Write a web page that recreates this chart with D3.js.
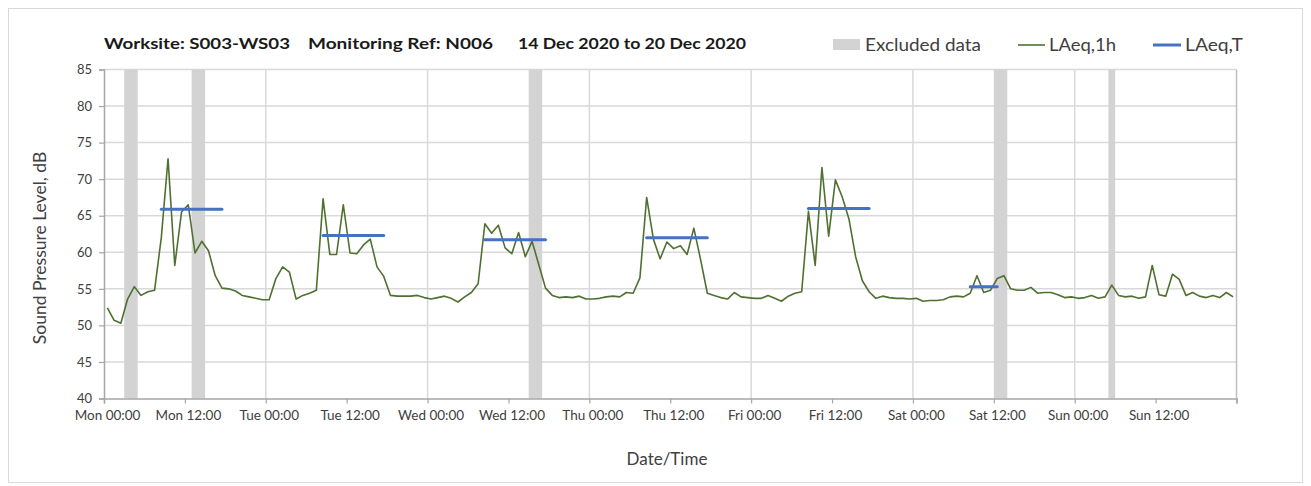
<!DOCTYPE html>
<html>
<head>
<meta charset="utf-8">
<script src="https://cdn.jsdelivr.net/npm/d3@7"></script>
<style>
  html, body { margin: 0; padding: 0; background: #fff; }
  svg { display: block; font-family: Lato, "Open Sans", sans-serif; }
</style>
</head>
<body>
<svg id="chart" width="1311" height="486"></svg>
<script>
// ---------------- DATA ----------------
const seriesStart = "2020-12-14T00:00:00Z";   // Mon 00:00, first hourly value plotted at mid-hour
const seriesEnd = "2020-12-21T00:00:00Z";
// LAeq,1h hourly values (dB), 168 hours Mon 00:00 - Sun 24:00
const laeq1h = [
  52.4, 50.7, 50.3, 53.6, 55.3, 54.1, 54.6, 54.8, 62.0, 72.8, 58.2, 65.5,
  66.5, 59.9, 61.5, 60.2, 56.8, 55.1, 55.0, 54.7, 54.1, 53.9, 53.7, 53.5,
  53.5, 56.4, 58.0, 57.3, 53.6, 54.1, 54.4, 54.8, 67.3, 59.7, 59.7, 66.5,
  59.9, 59.8, 61.0, 61.8, 58.0, 56.7, 54.1, 54.0, 54.0, 54.0, 54.1, 53.8,
  53.6, 53.8, 54.0, 53.7, 53.2, 53.9, 54.5, 55.7, 63.9, 62.6, 63.7, 60.6,
  59.8, 62.7, 59.4, 61.5, 58.3, 55.1, 54.1, 53.8, 53.9, 53.8, 54.0, 53.6,
  53.6, 53.7, 53.9, 54.0, 53.9, 54.5, 54.4, 56.5, 67.5, 61.8, 59.1, 61.4,
  60.5, 60.9, 59.7, 63.3, 59.0, 54.4, 54.1, 53.8, 53.6, 54.5, 53.9, 53.8,
  53.7, 53.7, 54.1, 53.7, 53.3, 54.0, 54.4, 54.6, 65.6, 58.2, 71.6, 62.2,
  69.9, 67.6, 64.6, 59.4, 56.1, 54.6, 53.7, 54.0, 53.8, 53.7, 53.7, 53.6,
  53.7, 53.3, 53.4, 53.4, 53.5, 53.9, 54.0, 53.9, 54.4, 56.8, 54.5, 54.8,
  56.4, 56.8, 55.0, 54.8, 54.8, 55.2, 54.4, 54.5, 54.5, 54.2, 53.8, 53.9,
  53.7, 53.8, 54.1, 53.7, 53.9, 55.5, 54.1, 53.9, 54.0, 53.7, 53.9, 58.2,
  54.2, 54.0, 57.0, 56.3, 54.1, 54.5, 54.0, 53.8, 54.1, 53.8, 54.5, 53.9
];
// LAeq,T periods
const periodStart = ["2020-12-14T08:30:00Z","2020-12-15T08:30:00Z","2020-12-16T08:30:00Z","2020-12-17T08:30:00Z","2020-12-18T08:30:00Z","2020-12-19T08:30:00Z"];
const periodEnd   = ["2020-12-14T17:30:00Z","2020-12-15T17:30:00Z","2020-12-16T17:30:00Z","2020-12-17T17:30:00Z","2020-12-18T17:30:00Z","2020-12-19T12:30:00Z"];
const periodLAeqT = [65.9, 62.3, 61.7, 62.0, 66.0, 55.3];
// Excluded data periods
const exclStart = ["2020-12-14T03:00:00Z","2020-12-14T13:00:00Z","2020-12-16T15:00:00Z","2020-12-19T12:00:00Z","2020-12-20T05:00:00Z"];
const exclEnd   = ["2020-12-14T05:00:00Z","2020-12-14T15:00:00Z","2020-12-16T17:00:00Z","2020-12-19T14:00:00Z","2020-12-20T06:00:00Z"];
// Axis ticks
const yTicks = [40, 45, 50, 55, 60, 65, 70, 75, 80, 85];
const titleParts = ["Worksite: S003-WS03", "Monitoring Ref: N006", "14 Dec 2020 to 20 Dec 2020"];
const legendLabels = ["Excluded data", "LAeq,1h", "LAeq,T"];
const yTitle = "Sound Pressure Level, dB";
const xTitle = "Date/Time";

// ---------------- CHART ----------------
(function () {
const svg = d3.select("#chart");
const W = 1311, H = 486;
const pLeft = 104, pRight = 1236.5, pTop = 69.5, pBottom = 398.5;
const HOUR = 3600 * 1000;

const t0 = new Date(seriesStart), t1 = new Date(seriesEnd);
const x = d3.scaleUtc().domain([t0, t1]).range([pLeft, pRight]);
const y = d3.scaleLinear().domain([40, 85]).range([pBottom, pTop]);

// outer border
svg.append("rect").attr("x", 8.5).attr("y", 8.5).attr("width", W - 17).attr("height", H - 12)
  .attr("fill", "#fff").attr("stroke", "#d9d9d9").attr("stroke-width", 1);

// horizontal gridlines
svg.append("g").selectAll("line").data(yTicks.filter(v => v > 40)).join("line")
  .attr("x1", pLeft).attr("x2", pRight)
  .attr("y1", d => y(d)).attr("y2", d => y(d))
  .attr("stroke", "#d9d9d9").attr("stroke-width", 1.5);

// vertical gridlines at each day
const dayTicks = d3.utcDay.range(d3.utcDay.offset(t0, 1), d3.utcDay.offset(t1, 1));
svg.append("g").selectAll("line").data(dayTicks).join("line")
  .attr("x1", d => x(d)).attr("x2", d => x(d))
  .attr("y1", pTop).attr("y2", pBottom)
  .attr("stroke", d => +d === +t1 ? "#bfbfbf" : "#d9d9d9").attr("stroke-width", 1.5);

// excluded bands
const excl = exclStart.map((s, i) => ({ s: new Date(s), e: new Date(exclEnd[i]) }));
svg.append("g").selectAll("rect").data(excl).join("rect")
  .attr("x", d => x(d.s)).attr("width", d => x(d.e) - x(d.s))
  .attr("y", pTop).attr("height", pBottom - pTop)
  .attr("fill", "#d3d3d3");

// axes
const xTickVals = d3.utcHour.every(12).range(t0, d3.utcHour.offset(t1, 1));
const fmt = d3.utcFormat("%a %H:%M");
const xAxis = svg.append("g").attr("transform", `translate(0,${pBottom})`)
  .call(d3.axisBottom(x).tickValues(xTickVals).tickSize(5).tickPadding(7)
    .tickFormat(d => +d === +t1 ? "" : fmt(d)));
xAxis.select(".domain").attr("stroke", "#a6a6a6").attr("stroke-width", 1.5);
xAxis.selectAll(".tick line").attr("stroke", "#a6a6a6").attr("stroke-width", 1.2);
xAxis.selectAll(".tick text").attr("fill", "#404040").attr("font-size", 13.5).attr("dx", 3);

const yAxis = svg.append("g").attr("transform", `translate(${pLeft},0)`)
  .call(d3.axisLeft(y).tickValues(yTicks).tickSize(5).tickPadding(7));
yAxis.select(".domain").attr("stroke", "#a6a6a6").attr("stroke-width", 1.5);
yAxis.selectAll(".tick line").attr("stroke", "#a6a6a6").attr("stroke-width", 1.2);
yAxis.selectAll(".tick text").attr("fill", "#404040").attr("font-size", 13);
svg.selectAll(".tick text").attr("font-family", "Lato, 'Open Sans', sans-serif");

// LAeq,1h line
const pts = laeq1h.map((v, i) => ({ t: new Date(+t0 + (i + 0.5) * HOUR), v }));
svg.append("path").datum(pts)
  .attr("fill", "none").attr("stroke", "#4f7031").attr("stroke-width", 1.6)
  .attr("stroke-linejoin", "round")
  .attr("d", d3.line().x(d => x(d.t)).y(d => y(d.v)));

// LAeq,T lines
const per = periodStart.map((s, i) => ({ s: new Date(s), e: new Date(periodEnd[i]), v: periodLAeqT[i] }));
svg.append("g").selectAll("line").data(per).join("line")
  .attr("x1", d => x(d.s)).attr("x2", d => x(d.e))
  .attr("y1", d => y(d.v)).attr("y2", d => y(d.v))
  .attr("stroke", "#4472c4").attr("stroke-width", 3).attr("stroke-linecap", "round");

// title
const titleX = [104, 308, 518], titleW = [186, 185, 228];
svg.append("g").selectAll("text").data(titleParts).join("text")
  .attr("x", (d, i) => titleX[i]).attr("y", 49)
  .attr("textLength", (d, i) => titleW[i]).attr("lengthAdjust", "spacingAndGlyphs")
  .attr("font-size", 15.5).attr("font-weight", "bold").attr("fill", "#1a1a1a")
  .text(d => d);

// legend
const lg = svg.append("g");
lg.append("rect").attr("x", 833).attr("y", 39).attr("width", 27).attr("height", 11).attr("fill", "#d3d3d3");
lg.append("line").attr("x1", 1018).attr("x2", 1045).attr("y1", 45).attr("y2", 45)
  .attr("stroke", "#4f7031").attr("stroke-width", 1.6);
lg.append("line").attr("x1", 1153).attr("x2", 1181).attr("y1", 45).attr("y2", 45)
  .attr("stroke", "#4472c4").attr("stroke-width", 3);
const legX = [865, 1049, 1185], legW = [116, 67, 58];
lg.selectAll("text").data(legendLabels).join("text")
  .attr("x", (d, i) => legX[i]).attr("y", 51)
  .attr("textLength", (d, i) => legW[i]).attr("lengthAdjust", "spacingAndGlyphs")
  .attr("font-size", 17).attr("fill", "#404040")
  .text(d => d);

// axis titles
svg.append("text")
  .attr("transform", `translate(46,248) rotate(-90)`)
  .attr("text-anchor", "middle").attr("font-size", 17.5).attr("fill", "#404040")
  .text(yTitle);
svg.append("text")
  .attr("x", 667).attr("y", 465)
  .attr("text-anchor", "middle").attr("font-size", 17).attr("fill", "#404040")
  .text(xTitle);
})();
</script>
</body>
</html>
